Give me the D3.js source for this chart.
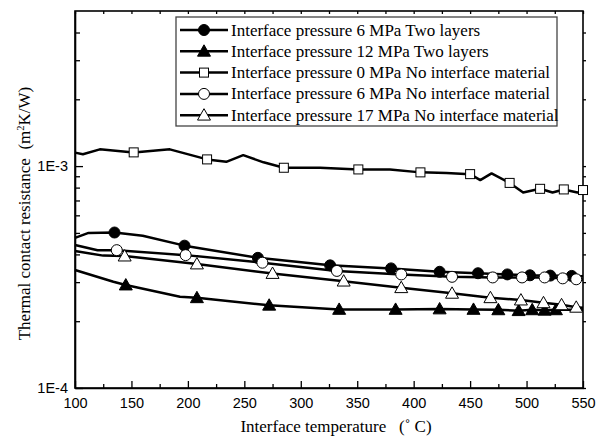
<!DOCTYPE html>
<html>
<head>
<meta charset="utf-8">
<script src="https://cdn.jsdelivr.net/npm/d3@7"></script>
<style>
  body { margin: 0; background: #fff; }
  svg { display: block; }
</style>
</head>
<body>
<div id="chart"></div>
<script>
// [temperature, resistance, marker?]
const twoLayers6 = [[100,4.75e-4,0],[112,5.0e-4,0],[135,5.02e-4,1],[160,4.85e-4,0],[197,4.38e-4,1],[262,3.86e-4,1],[326,3.57e-4,1],[380,3.46e-4,1],[423,3.34e-4,1],[457,3.29e-4,1],[483,3.25e-4,1],[503,3.22e-4,1],[521,3.21e-4,1],[540,3.2e-4,1],[550,3.19e-4,0]];
const twoLayers12 = [[100,3.4e-4,0],[134,3.01e-4,0],[145,2.91e-4,1],[193,2.58e-4,0],[208,2.55e-4,1],[272,2.36e-4,1],[334,2.26e-4,1],[384,2.26e-4,1],[423,2.27e-4,1],[453,2.26e-4,1],[475,2.25e-4,1],[493,2.23e-4,1],[505,2.25e-4,1],[516,2.24e-4,1],[526,2.25e-4,1],[540,2.25e-4,0],[550,2.25e-4,0]];
const noMat0 = [[100,1.15e-3,0],[107,1.13e-3,0],[122,1.19e-3,0],[152,1.153e-3,1],[184,1.19e-3,0],[217,1.072e-3,1],[234,1.045e-3,0],[249,1.12e-3,0],[267,1.04e-3,0],[285,9.83e-4,1],[317,9.83e-4,0],[351,9.66e-4,1],[379,9.66e-4,0],[406,9.37e-4,1],[429,9.3e-4,0],[450,9.2e-4,1],[459,8.65e-4,0],[469,9.27e-4,0],[485,8.4e-4,1],[497,7.6e-4,0],[512,7.9e-4,1],[523,7.6e-4,0],[533,7.85e-4,1],[545,7.6e-4,0],[550,7.8e-4,1]];
const noMat6 = [[100,4.41e-4,0],[120,4.18e-4,0],[137,4.18e-4,1],[198,3.97e-4,1],[266,3.67e-4,1],[332,3.37e-4,1],[389,3.25e-4,1],[434,3.17e-4,1],[470,3.15e-4,1],[496,3.15e-4,1],[516,3.15e-4,1],[532,3.12e-4,1],[544,3.09e-4,1],[550,3.08e-4,0]];
const noMat17 = [[100,4.14e-4,0],[125,3.95e-4,0],[144,3.93e-4,1],[208,3.62e-4,1],[275,3.28e-4,1],[338,3.03e-4,1],[389,2.83e-4,1],[434,2.67e-4,1],[468,2.55e-4,1],[495,2.49e-4,1],[515,2.42e-4,1],[531,2.37e-4,1],[544,2.31e-4,1],[550,2.3e-4,0]];

const seriesNames = [
  'Interface pressure 6 MPa Two layers',
  'Interface pressure 12 MPa Two layers',
  'Interface pressure 0 MPa No interface material',
  'Interface pressure 6 MPa No interface material',
  'Interface pressure 17 MPa No interface material'
];
const seriesData = [twoLayers6, twoLayers12, noMat0, noMat6, noMat17];
const markerTypes = ['circleFill', 'triangleFill', 'square', 'circle', 'triangle'];

const xTicks = [100,150,200,250,300,350,400,450,500,550];
const xMinorTicks = [125,175,225,275,325,375,425,475,525];
const yMajorTicks = [1e-4, 1e-3];
const yMinorTicks = [2e-4,3e-4,4e-4,5e-4,6e-4,7e-4,8e-4,9e-4,2e-3,3e-3,4e-3];

const width = 608, height = 442;
const margin = {left: 75, right: 25, top: 11, bottom: 54};

const svg = d3.select('#chart').append('svg')
  .attr('width', width).attr('height', height);

const x = d3.scaleLinear().domain([100, 550]).range([margin.left, width - margin.right]);
const y = d3.scaleLog().domain([1e-4, 5e-3]).range([height - margin.bottom, margin.top]);

const x0 = margin.left, x1 = width - margin.right;
const y0 = height - margin.bottom, y1 = margin.top;

// axes with inward ticks
svg.append('g').attr('transform', `translate(0,${y0})`)
  .call(d3.axisBottom(x).tickValues(xMinorTicks).tickSize(-4).tickFormat(''))
  .call(g => g.select('.domain').remove());
svg.append('g').attr('class', 'xaxis').attr('transform', `translate(0,${y0})`)
  .call(d3.axisBottom(x).tickValues(xTicks).tickSizeInner(-7).tickSizeOuter(0).tickPadding(10).tickFormat(d3.format('d')));

svg.append('g').attr('transform', `translate(${x0},0)`)
  .call(d3.axisLeft(y).tickValues(yMinorTicks).tickSize(-5).tickFormat(''))
  .call(g => g.select('.domain').remove());
svg.append('g').attr('class', 'yaxis').attr('transform', `translate(${x0},0)`)
  .call(d3.axisLeft(y).tickValues(yMajorTicks).tickSizeInner(-8).tickSizeOuter(0).tickPadding(7)
    .tickFormat(d => d === 1e-4 ? '1E-4' : '1E-3'));

// mirrored small ticks on top and right
svg.append('g').attr('transform', `translate(0,${y1})`)
  .call(d3.axisTop(x).tickValues(xTicks.concat(xMinorTicks)).tickSize(-3).tickFormat(''))
  .call(g => g.select('.domain').remove());
svg.append('g').attr('transform', `translate(${x1},0)`)
  .call(d3.axisRight(y).tickValues(yMajorTicks.concat(yMinorTicks)).tickSize(3).tickFormat(''))
  .call(g => g.select('.domain').remove());

svg.append('rect')
  .attr('x', x0).attr('y', y1).attr('width', x1 - x0).attr('height', y0 - y1)
  .attr('fill', 'none').attr('stroke', '#000').attr('stroke-width', 1.6);

svg.selectAll('.tick line').attr('stroke', '#000').attr('stroke-width', 1.3);
svg.selectAll('.domain').attr('stroke', '#000').attr('stroke-width', 1.6);
svg.selectAll('.xaxis text, .yaxis text')
  .attr('font-family', 'Liberation Sans, Arial, sans-serif').attr('font-size', 14.5).attr('fill', '#000');

// axis titles
svg.append('text')
  .attr('x', 336).attr('y', 432)
  .attr('text-anchor', 'middle')
  .attr('font-family', 'Liberation Serif, Times New Roman, serif').attr('font-size', 17)
  .attr('xml:space', 'preserve')
  .text('Interface temperature   (\u02DA C)');

const yTitle = svg.append('text')
  .attr('transform', `translate(30,${(y0 + y1) / 2 + 14}) rotate(-90)`)
  .attr('text-anchor', 'middle')
  .attr('font-family', 'Liberation Serif, Times New Roman, serif').attr('font-size', 17)
  .attr('xml:space', 'preserve');
yTitle.append('tspan').text('Thermal contact resistance  (m');
yTitle.append('tspan').attr('font-size', 10.5).attr('dy', -6).text('2');
yTitle.append('tspan').attr('dy', 6).text('K/W)');

// markers
function drawMarker(g, type, cx, cy) {
  const filled = type.endsWith('Fill');
  const fill = filled ? '#000' : '#fff';
  if (type.startsWith('circle')) {
    g.append('circle').attr('cx', cx).attr('cy', cy).attr('r', 5.5)
      .attr('fill', fill).attr('stroke', '#000').attr('stroke-width', 1);
  } else if (type.startsWith('triangle')) {
    const s = 6.5;
    g.append('path')
      .attr('d', `M${cx},${cy - s} L${cx + s},${cy + s * 0.75} L${cx - s},${cy + s * 0.75} Z`)
      .attr('fill', fill).attr('stroke', '#000').attr('stroke-width', 1);
  } else {
    const s = 4.5;
    g.append('rect').attr('x', cx - s).attr('y', cy - s).attr('width', 2 * s).attr('height', 2 * s)
      .attr('fill', fill).attr('stroke', '#000').attr('stroke-width', 1);
  }
}

const line = d3.line().x(d => x(d[0])).y(d => y(d[1]));

const plot = svg.append('g');
seriesData.forEach((data, i) => {
  plot.append('path').datum(data)
    .attr('d', line)
    .attr('fill', 'none').attr('stroke', '#000').attr('stroke-width', 2.5)
    .attr('stroke-linejoin', 'round');
});
seriesData.forEach((data, i) => {
  const g = plot.append('g');
  data.filter(d => d[2]).forEach(d => drawMarker(g, markerTypes[i], x(d[0]), y(d[1])));
});

// legend
const legend = svg.append('g');
legend.append('rect')
  .attr('x', 176).attr('y', 17).attr('width', 381).attr('height', 109)
  .attr('fill', '#fff').attr('stroke', '#444').attr('stroke-width', 1.3);
seriesNames.forEach((name, i) => {
  const ly = 30 + i * 21.3;
  legend.append('line').attr('x1', 180).attr('x2', 228).attr('y1', ly).attr('y2', ly)
    .attr('stroke', '#000').attr('stroke-width', 2.5);
  drawMarker(legend, markerTypes[i], 204, ly);
  legend.append('text')
    .attr('x', 231).attr('y', ly + 5.5)
    .attr('font-family', 'Liberation Serif, Times New Roman, serif').attr('font-size', 17)
    .text(name);
});
</script>
</body>
</html>
